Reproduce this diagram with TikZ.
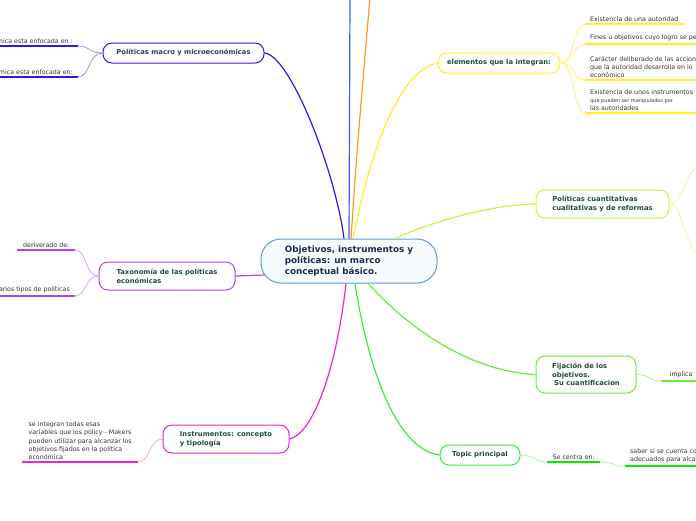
\documentclass[tikz,border=0pt]{standalone}
\usepackage{fontspec}
\setmainfont{DejaVu Sans}
\usepackage{tikz}
\usetikzlibrary{calc}
\definecolor{centrex}{HTML}{5B9BD5}
\definecolor{centrebg}{HTML}{F7FBFE}
\definecolor{centretx}{HTML}{1C2A57}
\definecolor{nodetx}{HTML}{1F4D3D}
\definecolor{leaftx}{HTML}{333333}
\definecolor{indigox}{HTML}{3D10E8}
\definecolor{indigol}{HTML}{9F8CF3}
\definecolor{yellowx}{HTML}{FFEE22}
\definecolor{yellowl}{HTML}{FFF27A}
\definecolor{limex}{HTML}{C6F53C}
\definecolor{limel}{HTML}{DDFB9A}
\definecolor{greenx}{HTML}{6BE83A}
\definecolor{greenl}{HTML}{A8F28A}
\definecolor{topicx}{HTML}{33EE33}
\definecolor{topicul}{HTML}{00EE00}
\definecolor{topicl}{HTML}{A8F5A8}
\definecolor{magx}{HTML}{F01FD8}
\definecolor{magl}{HTML}{F8A0EE}
\definecolor{purpx}{HTML}{B040F0}
\definecolor{purpl}{HTML}{D8A3F7}
\definecolor{bluex}{HTML}{2F5FF5}
\definecolor{orangex}{HTML}{FF9A1F}
\tikzset{
  box/.style={draw,line width=1pt,rounded corners=9pt,fill=white,text=nodetx,inner sep=0pt,align=left,font=\bfseries\fontsize{6.8}{8.8}\selectfont},
  leaf/.style={text=leaftx,inner xsep=5pt,inner ysep=2.5pt,align=left,font=\fontsize{6.3}{8.1}\selectfont},
  ul/.style={line width=1.6pt},
  br/.style={line width=1.2pt},
  tw/.style={line width=0.8pt}
}
\begin{document}
\begin{tikzpicture}[x=1pt,y=-1pt]
\useasboundingbox (0,0) rectangle (696,520);
\clip (0,0) rectangle (696,520);
% centre and main topics
\node[box,draw=centrex,fill=centrebg,rounded corners=20pt,text=centretx,font=\bfseries\fontsize{8.8}{11}\selectfont,minimum width=176pt,minimum height=44pt] (c) at (349,261) {Objetivos, instrumentos y\\políticas: un marco\\conceptual básico.};
\node[box,draw=indigox,minimum width=161pt,minimum height=20pt] (macro) at (183.5,53) {Políticas macro y microeconómicas};
\node[box,draw=yellowx,minimum width=122pt,minimum height=20pt] (elem) at (499,63) {elementos que la integran:};
\node[box,draw=limex,minimum width=133pt,minimum height=28pt] (cuant) at (602.5,204) {Políticas cuantitativas\\cualitativas y de reformas};
\node[box,draw=greenx,minimum width=100pt,minimum height=37pt] (fij) at (586,374.5) {Fijación de los\\objetivos.\\\hspace{2pt}Su cuantificacion};
\node[box,draw=topicx,minimum width=80pt,minimum height=20pt] (topic) at (480,455) {Topic principal};
\node[box,draw=magx,minimum width=126pt,minimum height=28pt] (instr) at (226,439) {Instrumentos: concepto\\y tipología};
\node[box,draw=purpx,minimum width=136pt,minimum height=28pt] (taxo) at (167,276) {Taxonomía de las políticas\\económicas};
\coordinate (top1) at (350,-3);
\coordinate (top2) at (370,-3);
\coordinate (cq1) at (700,167);
\coordinate (cq2) at (700,254);
% branches
\draw[br,bluex] (c.north) -- (top1);
\draw[br,orangex] ([xshift=2pt]c.north) .. controls (357,150) .. (top2);
\draw[br,indigox] ([xshift=-5pt]c.north) .. controls (335,170) and (290,55) .. (macro.east);
\draw[br,yellowx] ([xshift=4pt]c.north) .. controls (370,150) and (400,70) .. (elem.west);
\draw[br,limex] ([xshift=46pt]c.north) .. controls (440,218) and (500,204) .. (cuant.west);
\draw[br,greenx] ([xshift=19pt]c.south) .. controls (420,340) and (480,372) .. (fij.west);
\draw[br,topicx] ([xshift=6pt]c.south) .. controls (370,380) and (400,450) .. (topic.west);
\draw[br,magx] ([xshift=-3pt]c.south) .. controls (335,380) and (310,435) .. (instr.east);
\draw[br,purpx] ($(c.west)+(4,14)$) -- (taxo.east);
% leaves
\node[leaf,anchor=south east] (m1) at (78,46) {macroeconómica esta enfocada en :};
\node[leaf,anchor=south east] (m2) at (78,77) {microeconómica esta enfocada en:};
\node[leaf,anchor=south west] (e1) at (585,24) {Existencia de una autoridad};
\node[leaf,anchor=south west] (e2) at (585,44) {Fines u objetivos cuyo logro se persigue};
\node[leaf,anchor=south west] (e3) at (585,80) {Carácter deliberado de las acciones\\que la autoridad desarrolla en lo\\económico};
\node[leaf,anchor=south west] (e4) at (585,113) {Existencia de unos instrumentos\\{\fontsize{5}{6}\selectfont que pueden ser manipulados por}\\las autoridades};
\node[leaf,anchor=south west,minimum width=58pt] (t1) at (17,250) {deriverado de:};
\node[leaf,anchor=south east] (t2) at (75,296) {Varios tipos de políticas};
\node[leaf,anchor=south west,minimum width=116pt] (i1) at (22,462) {se integran todas esas\\variables que los policy - Makers\\pueden utilizar para alcanzar los\\objetivos fijados en la política\\económica};
\node[leaf,anchor=south west,minimum width=40pt] (f1) at (661,381) {implica};
\node[leaf,anchor=south west,minimum width=53pt] (p1) at (547,462) {Se centra en:};
\node[leaf,anchor=south west] (p2) at (625,466) {saber si se cuenta con los medios\\adecuados para alcanzarlos};
\foreach \n/\col in {m1/indigox,m2/indigox,e1/yellowx,e2/yellowx,e3/yellowx,e4/yellowx,t1/purpx,t2/purpx,i1/magx,f1/greenx,p1/topicul,p2/topicul}
  \draw[ul,\col] (\n.south west) -- (\n.south east);
\draw[tw,indigol] (macro.west) .. controls +(-14,0) and +(12,0) .. (m1.south east);
\draw[tw,indigol] (macro.west) .. controls +(-14,0) and +(12,0) .. (m2.south east);
\foreach \n in {e1,e2,e3,e4}
  \draw[tw,yellowl] (elem.east) .. controls +(14,0) and +(-12,0) .. (\n.south west);
\draw[tw,limel] (cuant.east) .. controls +(14,0) and +(-14,0) .. (cq1);
\draw[tw,limel] (cuant.east) .. controls +(14,0) and +(-14,0) .. (cq2);
\draw[tw,purpl] (taxo.west) .. controls +(-14,0) and +(12,0) .. (t1.south east);
\draw[tw,purpl] (taxo.west) .. controls +(-14,0) and +(12,0) .. (t2.south east);
\draw[tw,magl] (instr.west) .. controls +(-14,0) and +(12,0) .. (i1.south east);
\draw[tw,greenl] (fij.east) .. controls +(14,0) and +(-12,0) .. (f1.south west);
\draw[tw,topicl] (topic.east) .. controls +(14,0) and +(-12,0) .. (p1.south west);
\draw[tw,topicl] (p1.south east) .. controls +(14,0) and +(-12,0) .. (p2.south west);
\end{tikzpicture}
\end{document}
